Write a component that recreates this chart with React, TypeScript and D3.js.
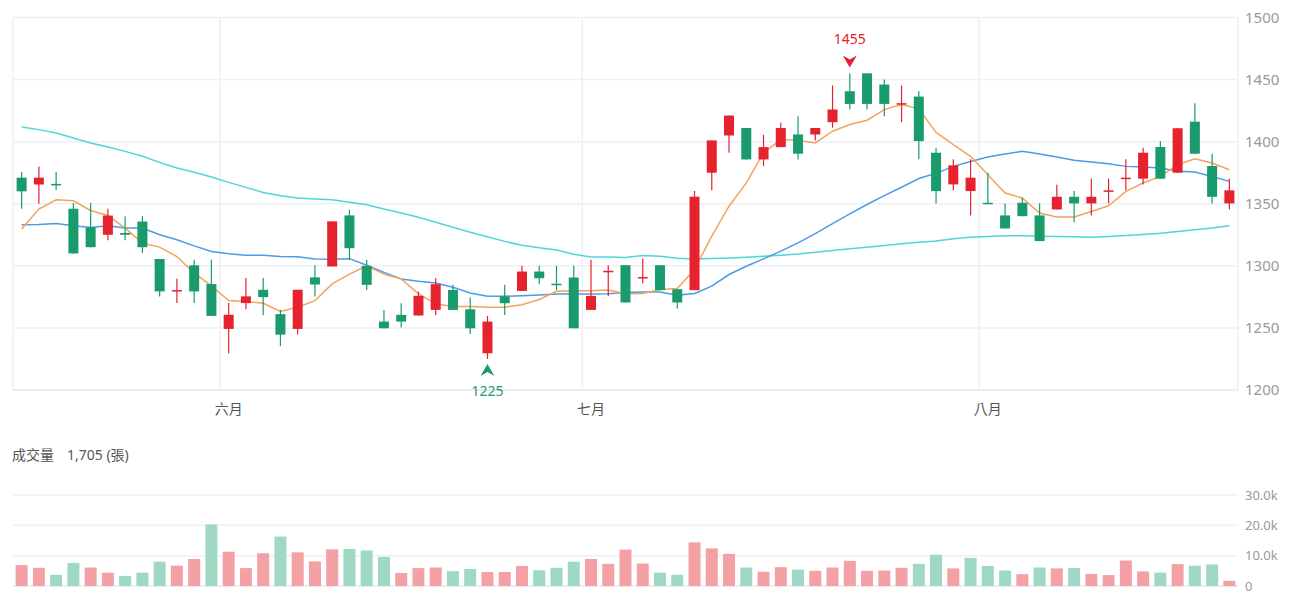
import React, { useEffect, useRef } from 'react';
import * as d3 from 'd3';

// 日K 資料 (開, 高, 低, 收)
const opens = [1371, 1365.5, 1366, 1346, 1331, 1325, 1326.5, 1335.7, 1305.5, 1279.5, 1300.4, 1285.3, 1249.2, 1270, 1280.7, 1261.1, 1249.2, 1290.7, 1299.5, 1340.6, 1300, 1255.1, 1260.5, 1260, 1264.5, 1280.6, 1265, 1229.6, 1275.3, 1279.8, 1295.4, 1285.6, 1290.6, 1264.5, 1295, 1300.5, 1290, 1300.5, 1281.2, 1280.4, 1375, 1405, 1411, 1385.7, 1395.6, 1405.8, 1405.8, 1415.7, 1440.6, 1455, 1446, 1430, 1436.3, 1391.1, 1365.6, 1360.2, 1350.8, 1340.6, 1350.8, 1340.6, 1345.4, 1355.6, 1350.3, 1360, 1370, 1370.2, 1395.7, 1375, 1416.1, 1380.4, 1350.3];
const highs = [1375.5, 1380, 1375.5, 1350.7, 1350.7, 1346, 1340, 1340, 1305.5, 1289.6, 1305, 1305, 1270, 1290.2, 1290.2, 1264.6, 1280.7, 1300.4, 1336, 1345.2, 1304.8, 1264.5, 1269.9, 1279.3, 1290, 1284.7, 1274.5, 1259.7, 1284.7, 1300, 1300, 1300, 1300, 1304.8, 1300.5, 1300.5, 1305.9, 1300.5, 1281.2, 1360.3, 1401, 1421, 1411, 1405.5, 1415.2, 1420.5, 1411, 1445.2, 1455, 1455, 1450, 1445.2, 1440.9, 1395.2, 1385.8, 1385.8, 1375, 1350.3, 1354.8, 1350.3, 1365.3, 1360.2, 1370.2, 1370.2, 1385.8, 1395.2, 1400.5, 1410.8, 1430.9, 1390.3, 1370.2];
const lows = [1346, 1350, 1361, 1309.8, 1315, 1320.6, 1320.6, 1310.4, 1275.4, 1270, 1270, 1259.7, 1229.6, 1265, 1260.2, 1235.3, 1244.9, 1275.4, 1299.5, 1304.8, 1280.6, 1249.7, 1250.3, 1260, 1260.5, 1264.5, 1245.2, 1225, 1260.5, 1279.8, 1285.2, 1280.6, 1249.7, 1264.5, 1275.5, 1270.5, 1285.8, 1280.4, 1265.7, 1280.4, 1360.8, 1391, 1385.7, 1380.3, 1395.6, 1385.7, 1400.9, 1411.2, 1425.9, 1426, 1420.5, 1415.7, 1385.8, 1350.3, 1360.8, 1340.6, 1350.3, 1330.1, 1340, 1319.9, 1345.4, 1335.2, 1340.6, 1350.3, 1360.8, 1365.6, 1370, 1375, 1390.3, 1350.3, 1345.4];
const closes = [1360, 1371, 1365, 1310, 1315, 1340.5, 1325, 1315, 1279.4, 1280.5, 1279.4, 1259.7, 1260.6, 1275.4, 1274.8, 1244.6, 1280.7, 1285, 1335.8, 1314.2, 1284.7, 1249.7, 1255.1, 1275.8, 1285.2, 1264.5, 1249.7, 1255.1, 1269.9, 1295.4, 1290, 1285.2, 1249.7, 1275.8, 1296, 1270.5, 1291, 1280.4, 1270.5, 1355.7, 1401, 1421, 1385.7, 1395.6, 1411, 1390.3, 1411, 1425.9, 1430.4, 1430.4, 1430.4, 1431, 1400.5, 1360.2, 1380.9, 1371, 1350.3, 1330.1, 1340, 1319.9, 1355.6, 1350.3, 1355.6, 1360.8, 1371, 1391.1, 1370.2, 1410.8, 1390.3, 1355.6, 1360.8];

// 成交量 (張) 與漲跌方向
const volumes = [6900, 6000, 3700, 7600, 6100, 4400, 3300, 4400, 8000, 6700, 8900, 20300, 11300, 5900, 10800, 16300, 11100, 8100, 12100, 12200, 11700, 9600, 4300, 5900, 6100, 4900, 5600, 4600, 4600, 6600, 5200, 6000, 8000, 8900, 7300, 12000, 7400, 4400, 3700, 14400, 12400, 10600, 6100, 4700, 6200, 5400, 5000, 6100, 8300, 5000, 5100, 6000, 7300, 10300, 5800, 9300, 6600, 5100, 3900, 6100, 5800, 5900, 4000, 3600, 8400, 4800, 4400, 7200, 6700, 7100, 1705];
const volUp = [1, 1, -1, -1, 1, 1, -1, -1, -1, 1, 1, -1, 1, 1, 1, -1, 1, 1, 1, -1, -1, -1, 1, 1, 1, -1, -1, 1, 1, 1, -1, -1, -1, 1, 1, 1, 1, -1, -1, 1, 1, 1, -1, 1, 1, -1, 1, 1, 1, 1, 1, 1, -1, -1, 1, -1, -1, -1, 1, -1, 1, -1, 1, 1, 1, 1, -1, 1, -1, -1, 1];

// 均線
const ma5 = [1329.6, 1345.7, 1353.2, 1352.4, 1344.6, 1340.6, 1330.4, 1318.3, 1315.1, 1307.5, 1294.1, 1283.9, 1272, 1271.2, 1269.9, 1263.2, 1266.7, 1272, 1285.4, 1293.3, 1300, 1293.3, 1289.4, 1277.4, 1269.4, 1267.3, 1267.3, 1266.7, 1266.7, 1268.6, 1272.9, 1279.5, 1280, 1280, 1280.6, 1277.5, 1277.7, 1280.9, 1281.7, 1297, 1323.9, 1348, 1366.8, 1390.9, 1401.7, 1401.2, 1399, 1408.4, 1413.8, 1417.3, 1425.8, 1429.9, 1426.4, 1407.5, 1397.6, 1388.2, 1373.4, 1358.6, 1354.6, 1342.5, 1339.3, 1339.3, 1343.8, 1348.4, 1360, 1366.7, 1372, 1381.5, 1386.3, 1382.8, 1377.4];
const ma20 = [1333.1, 1333.3, 1334.1, 1332.3, 1330.9, 1332.3, 1330.4, 1330.4, 1325, 1321, 1316.1, 1311.6, 1309.7, 1308.6, 1308.6, 1307.5, 1307.3, 1305.5, 1305.3, 1305.8, 1300.5, 1294.7, 1289.4, 1287.5, 1286.2, 1282.7, 1278.2, 1275.5, 1275.5, 1276, 1276.6, 1277.4, 1277.4, 1277.4, 1277.6, 1278.5, 1279, 1279, 1276.3, 1277.7, 1283.6, 1293, 1299.7, 1305.6, 1311.8, 1318.5, 1326, 1334, 1341.8, 1349.4, 1356.6, 1363.3, 1370.3, 1374.5, 1380.1, 1384.1, 1387.6, 1390.1, 1392.2, 1390.1, 1387.6, 1385, 1383.6, 1382.3, 1380.1, 1379.6, 1378.8, 1376.1, 1375.5, 1372, 1368];
const ma60 = [1411.8, 1409.7, 1407, 1403, 1399, 1395.7, 1392.2, 1388.2, 1383.3, 1378.8, 1375.3, 1371.5, 1367.2, 1363.2, 1359.1, 1356.5, 1354.6, 1353.8, 1353.2, 1351.3, 1349.2, 1345.7, 1342.6, 1339.1, 1335.1, 1331.1, 1327.1, 1323.4, 1319.7, 1316.5, 1314.6, 1312.8, 1309.3, 1307.2, 1307.2, 1306.8, 1308.3, 1307.8, 1306.1, 1305.6, 1305.9, 1306.4, 1307, 1307.8, 1308.6, 1309.6, 1311, 1312.3, 1313.7, 1315, 1316.3, 1317.7, 1319, 1320, 1321.8, 1323.1, 1323.7, 1324.2, 1324.2, 1323.9, 1323.7, 1323.4, 1323.1, 1323.7, 1324.5, 1325.3, 1326.3, 1327.7, 1329, 1330.4, 1332.3];

const monthTicks = [
  { index: 12, label: '六月' },
  { index: 33, label: '七月' },
  { index: 56, label: '八月' },
];
const priceTicks = [1200, 1250, 1300, 1350, 1400, 1450, 1500];
const volTicks = [0, 10000, 20000, 30000];

const UP = '#e5222d';
const DOWN = '#1a9b6c';
const GRID = '#edf0f6';
const FONT = '"Noto Sans", "Noto Sans CJK TC", sans-serif';

const App = () => {
  const svgRef = useRef<SVGSVGElement>(null);

  useEffect(() => {
    const svg = d3.select(svgRef.current);
    svg.selectAll('*').remove();

    const left = 13;
    const right = 1238;
    const n = closes.length;

    const x = d3.scaleBand<number>().domain(d3.range(n)).range([left, right]);
    const cx = (i: number) => (x(i) as number) + x.bandwidth() / 2;
    const y = d3.scaleLinear().domain([1200, 1500]).range([390, 17.5]);
    const yv = d3.scaleLinear().domain([0, 30000]).range([586, 495]);

    svg.style('font-family', FONT);

    // 價格格線
    const g = svg.append('g');
    g.selectAll('.hgrid')
      .data(priceTicks)
      .enter().append('line')
      .attr('x1', left).attr('x2', right)
      .attr('y1', d => y(d)).attr('y2', d => y(d))
      .attr('stroke', d => d === 1200 ? '#e3e7ef' : GRID)
      .attr('stroke-width', 1.5);

    g.selectAll('.vgrid')
      .data([0, ...monthTicks.map(d => d.index), n])
      .enter().append('line')
      .attr('x1', d => d === n ? right : (x(d) as number))
      .attr('x2', d => d === n ? right : (x(d) as number))
      .attr('y1', y(1500)).attr('y2', y(1200))
      .attr('stroke', GRID)
      .attr('stroke-width', 1.5);

    // 右側價格刻度
    g.selectAll('.ptick')
      .data(priceTicks)
      .enter().append('text')
      .attr('x', 1245)
      .attr('y', d => y(d))
      .attr('dy', '0.35em')
      .attr('fill', '#999')
      .style('font-size', '15px')
      .text(d => d);

    // 月份
    g.selectAll('.mtick')
      .data(monthTicks)
      .enter().append('text')
      .attr('x', d => cx(d.index))
      .attr('y', 409)
      .attr('dy', '0.35em')
      .attr('text-anchor', 'middle')
      .attr('fill', '#555')
      .style('font-size', '14px')
      .text(d => d.label);

    // 均線
    const lines = [
      { values: ma60, color: '#4fd5d8' },
      { values: ma20, color: '#4b9be6' },
      { values: ma5, color: '#f5a35c' },
    ];
    lines.forEach(l => {
      g.append('path')
        .datum(l.values)
        .attr('fill', 'none')
        .attr('stroke', l.color)
        .attr('stroke-width', 1.5)
        .attr('d', d3.line<number>().x((d, i) => cx(i)).y(d => y(d)));
    });

    // K 線
    const bodyW = 10;
    const candles = g.selectAll('.candle')
      .data(d3.range(n))
      .enter().append('g');

    candles.append('line')
      .attr('x1', i => cx(i)).attr('x2', i => cx(i))
      .attr('y1', i => y(highs[i])).attr('y2', i => y(lows[i]))
      .attr('stroke', i => closes[i] >= opens[i] ? UP : DOWN)
      .attr('stroke-width', 1.2);

    candles.append('rect')
      .attr('x', i => cx(i) - bodyW / 2)
      .attr('width', bodyW)
      .attr('y', i => y(Math.max(opens[i], closes[i])))
      .attr('height', i => Math.max(1.5, Math.abs(y(opens[i]) - y(closes[i]))))
      .attr('fill', i => closes[i] >= opens[i] ? UP : DOWN);

    // 最高 / 最低標記
    const hi = d3.maxIndex(highs);
    const lo = d3.minIndex(lows);
    const hx = cx(hi);
    const ht = y(highs[hi]) - 6;
    g.append('path')
      .attr('d', `M${hx},${ht} L${hx - 7},${ht - 12} L${hx},${ht - 8} L${hx + 7},${ht - 12} Z`)
      .attr('fill', UP);
    g.append('text')
      .attr('x', hx).attr('y', ht - 28)
      .attr('dy', '0.35em')
      .attr('text-anchor', 'middle')
      .attr('fill', UP)
      .style('font-size', '14px')
      .text(highs[hi]);

    const lx = cx(lo);
    const lt = y(lows[lo]) + 5;
    g.append('path')
      .attr('d', `M${lx},${lt} L${lx - 7},${lt + 12} L${lx},${lt + 8} L${lx + 7},${lt + 12} Z`)
      .attr('fill', DOWN);
    g.append('text')
      .attr('x', lx).attr('y', lt + 27)
      .attr('dy', '0.35em')
      .attr('text-anchor', 'middle')
      .attr('fill', DOWN)
      .style('font-size', '14px')
      .text(lows[lo]);

    // 成交量
    const v = svg.append('g');
    v.append('text')
      .attr('x', 12).attr('y', 455)
      .attr('dy', '0.35em')
      .attr('fill', '#555')
      .style('font-size', '14px')
      .text('成交量');
    v.append('text')
      .attr('x', 67).attr('y', 455)
      .attr('dy', '0.35em')
      .attr('fill', '#555')
      .style('font-size', '14px')
      .text(`${d3.format(',')(volumes[n - 1])} (張)`);

    v.selectAll('.vgridline')
      .data(volTicks)
      .enter().append('line')
      .attr('x1', left).attr('x2', right)
      .attr('y1', d => yv(d)).attr('y2', d => yv(d))
      .attr('stroke', d => d === 0 ? '#e3e7ef' : GRID)
      .attr('stroke-width', 1.5);

    v.selectAll('.vtick')
      .data(volTicks)
      .enter().append('text')
      .attr('x', 1245)
      .attr('y', d => yv(d))
      .attr('dy', '0.35em')
      .attr('fill', '#999')
      .style('font-size', '13px')
      .text(d => d === 0 ? '0' : `${d3.format('.1f')(d / 1000)}k`);

    const volW = 12;
    v.selectAll('.vbar')
      .data(d3.range(n))
      .enter().append('rect')
      .attr('x', i => cx(i) - volW / 2)
      .attr('width', volW)
      .attr('y', i => yv(volumes[i]))
      .attr('height', i => yv(0) - yv(volumes[i]))
      .attr('fill', i => volUp[i] > 0 ? '#f3a1a5' : '#9fd9c4');
  }, []);

  return (
    <svg
      ref={svgRef}
      width={1300}
      height={600}
      style={{ position: 'absolute', left: 0, top: 0, background: '#fff' }}
    />
  );
};

export default App;
